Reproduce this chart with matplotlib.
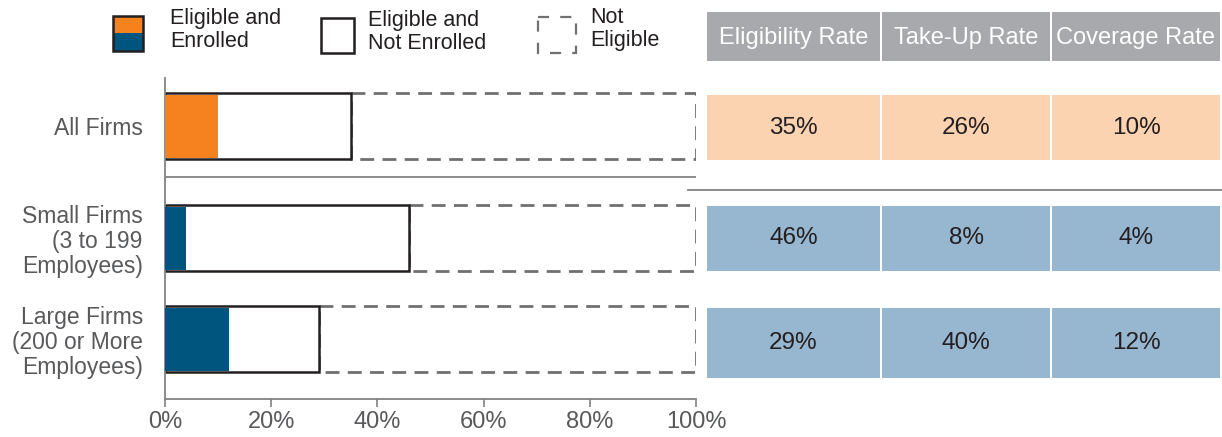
import matplotlib.pyplot as plt
from matplotlib.patches import Rectangle

plt.rcParams['font.family'] = ['Liberation Sans', 'DejaVu Sans']

# data
categories = ['All Firms', 'Small Firms\n(3 to 199\nEmployees)', 'Large Firms\n(200 or More\nEmployees)']
eligibility = [35, 46, 29]
take_up = [26, 8, 40]
coverage = [10, 4, 12]
columns = ['Eligibility Rate', 'Take-Up Rate', 'Coverage Rate']
x_ticks = [0, 20, 40, 60, 80, 100]

# colours
orange = '#F5821F'
blue = '#00557F'
light_orange = '#FCD3B1'
light_blue = '#97B7D1'
head_grey = '#A7A9AC'
text_grey = '#58595B'
dark = '#231F20'
dash_grey = '#707072'

W, H = 1222, 437
fig = plt.figure(figsize=(W / 100, H / 100), dpi=100)

# layout in pixels
row_y = [126, 238, 339]
bar_h = 66
ax = fig.add_axes([165 / W, 1 - 399 / H, (696 - 165) / W, (399 - 78) / H])
ax.set_xlim(0, 100)
ax.set_ylim(399, 78)

# not eligible (dashed), eligible (outlined), enrolled (filled)
ax.barh(row_y, [100 - e for e in eligibility], left=eligibility, height=bar_h,
        color='none', edgecolor=dash_grey, linestyle=(0, (5, 3)), linewidth=2.0, zorder=1)
ax.barh(row_y, eligibility, height=bar_h, color='white', edgecolor=dark, linewidth=1.8, zorder=2)
enr_colors = [orange] + [blue] * (len(categories) - 1)
ax.barh(row_y, coverage, height=bar_h - 3, color=enr_colors, linewidth=0, zorder=3)

for s in ['top', 'right']:
    ax.spines[s].set_visible(False)
for s in ['left', 'bottom']:
    ax.spines[s].set_color('#808285')
    ax.spines[s].set_linewidth(1.3)
ax.set_xticks(x_ticks, [f'{v}%' for v in x_ticks])
ax.set_yticks(row_y, categories)
ax.tick_params(axis='x', colors='#808285', labelcolor=text_grey, labelsize=17, length=6, width=1.2, pad=3)
ax.tick_params(axis='y', length=0, labelcolor=text_grey, labelsize=16.5, pad=16)
for lbl in ax.get_yticklabels():
    lbl.set_linespacing(1.12)
ax.axhline(177, color='#808285', linewidth=1.3, zorder=0)

# overlay in pixel coordinates for legend and table
ov = fig.add_axes([0, 0, 1, 1])
ov.set_xlim(0, W)
ov.set_ylim(H, 0)
ov.axis('off')

# legend
ov.add_patch(Rectangle((113, 16), 30, 17, facecolor=orange, edgecolor='none'))
ov.add_patch(Rectangle((113, 33), 30, 18, facecolor=blue, edgecolor='none'))
ov.add_patch(Rectangle((113, 16), 30, 35, facecolor='none', edgecolor=dark, linewidth=1.8))
ov.text(170, 30, 'Eligible and\nEnrolled', fontsize=15.5, color=dark, va='center', linespacing=1.12)
ov.add_patch(Rectangle((321, 18), 33, 35, facecolor='white', edgecolor=dark, linewidth=1.8))
ov.text(368, 32, 'Eligible and\nNot Enrolled', fontsize=15.5, color=dark, va='center', linespacing=1.12)
ov.add_patch(Rectangle((538, 17), 38, 36, facecolor='none', edgecolor=dash_grey,
                       linewidth=1.6, linestyle=(0, (5, 5))))
ov.text(590, 29, 'Not\nEligible', fontsize=15.5, color=dark, va='center', linespacing=1.12)

# table
col_x = [707, 882, 1052]
col_w = [175, 170, 170]
ov.plot([688, W], [190, 190], color='#808285', linewidth=1.3)
for j, name in enumerate(columns):
    ov.add_patch(Rectangle((col_x[j], 12), col_w[j] - 2, 49, facecolor=head_grey, edgecolor='none'))
    ov.text(col_x[j] + (col_w[j] - 2) / 2, 38, name, fontsize=17, color='white', ha='center', va='center')

row_top = [95, 206, 308]
row_hgt = [65, 65, 70]
table_vals = [eligibility, take_up, coverage]
for i in range(len(categories)):
    fc = light_orange if i == 0 else light_blue
    for j in range(len(columns)):
        ov.add_patch(Rectangle((col_x[j], row_top[i]), col_w[j] - 2, row_hgt[i], facecolor=fc, edgecolor='none'))
        ov.text(col_x[j] + (col_w[j] - 2) / 2, row_top[i] + row_hgt[i] / 2, f'{table_vals[j][i]}%',
                fontsize=17.5, color=dark, ha='center', va='center')

fig.savefig('out.png', dpi=100)
